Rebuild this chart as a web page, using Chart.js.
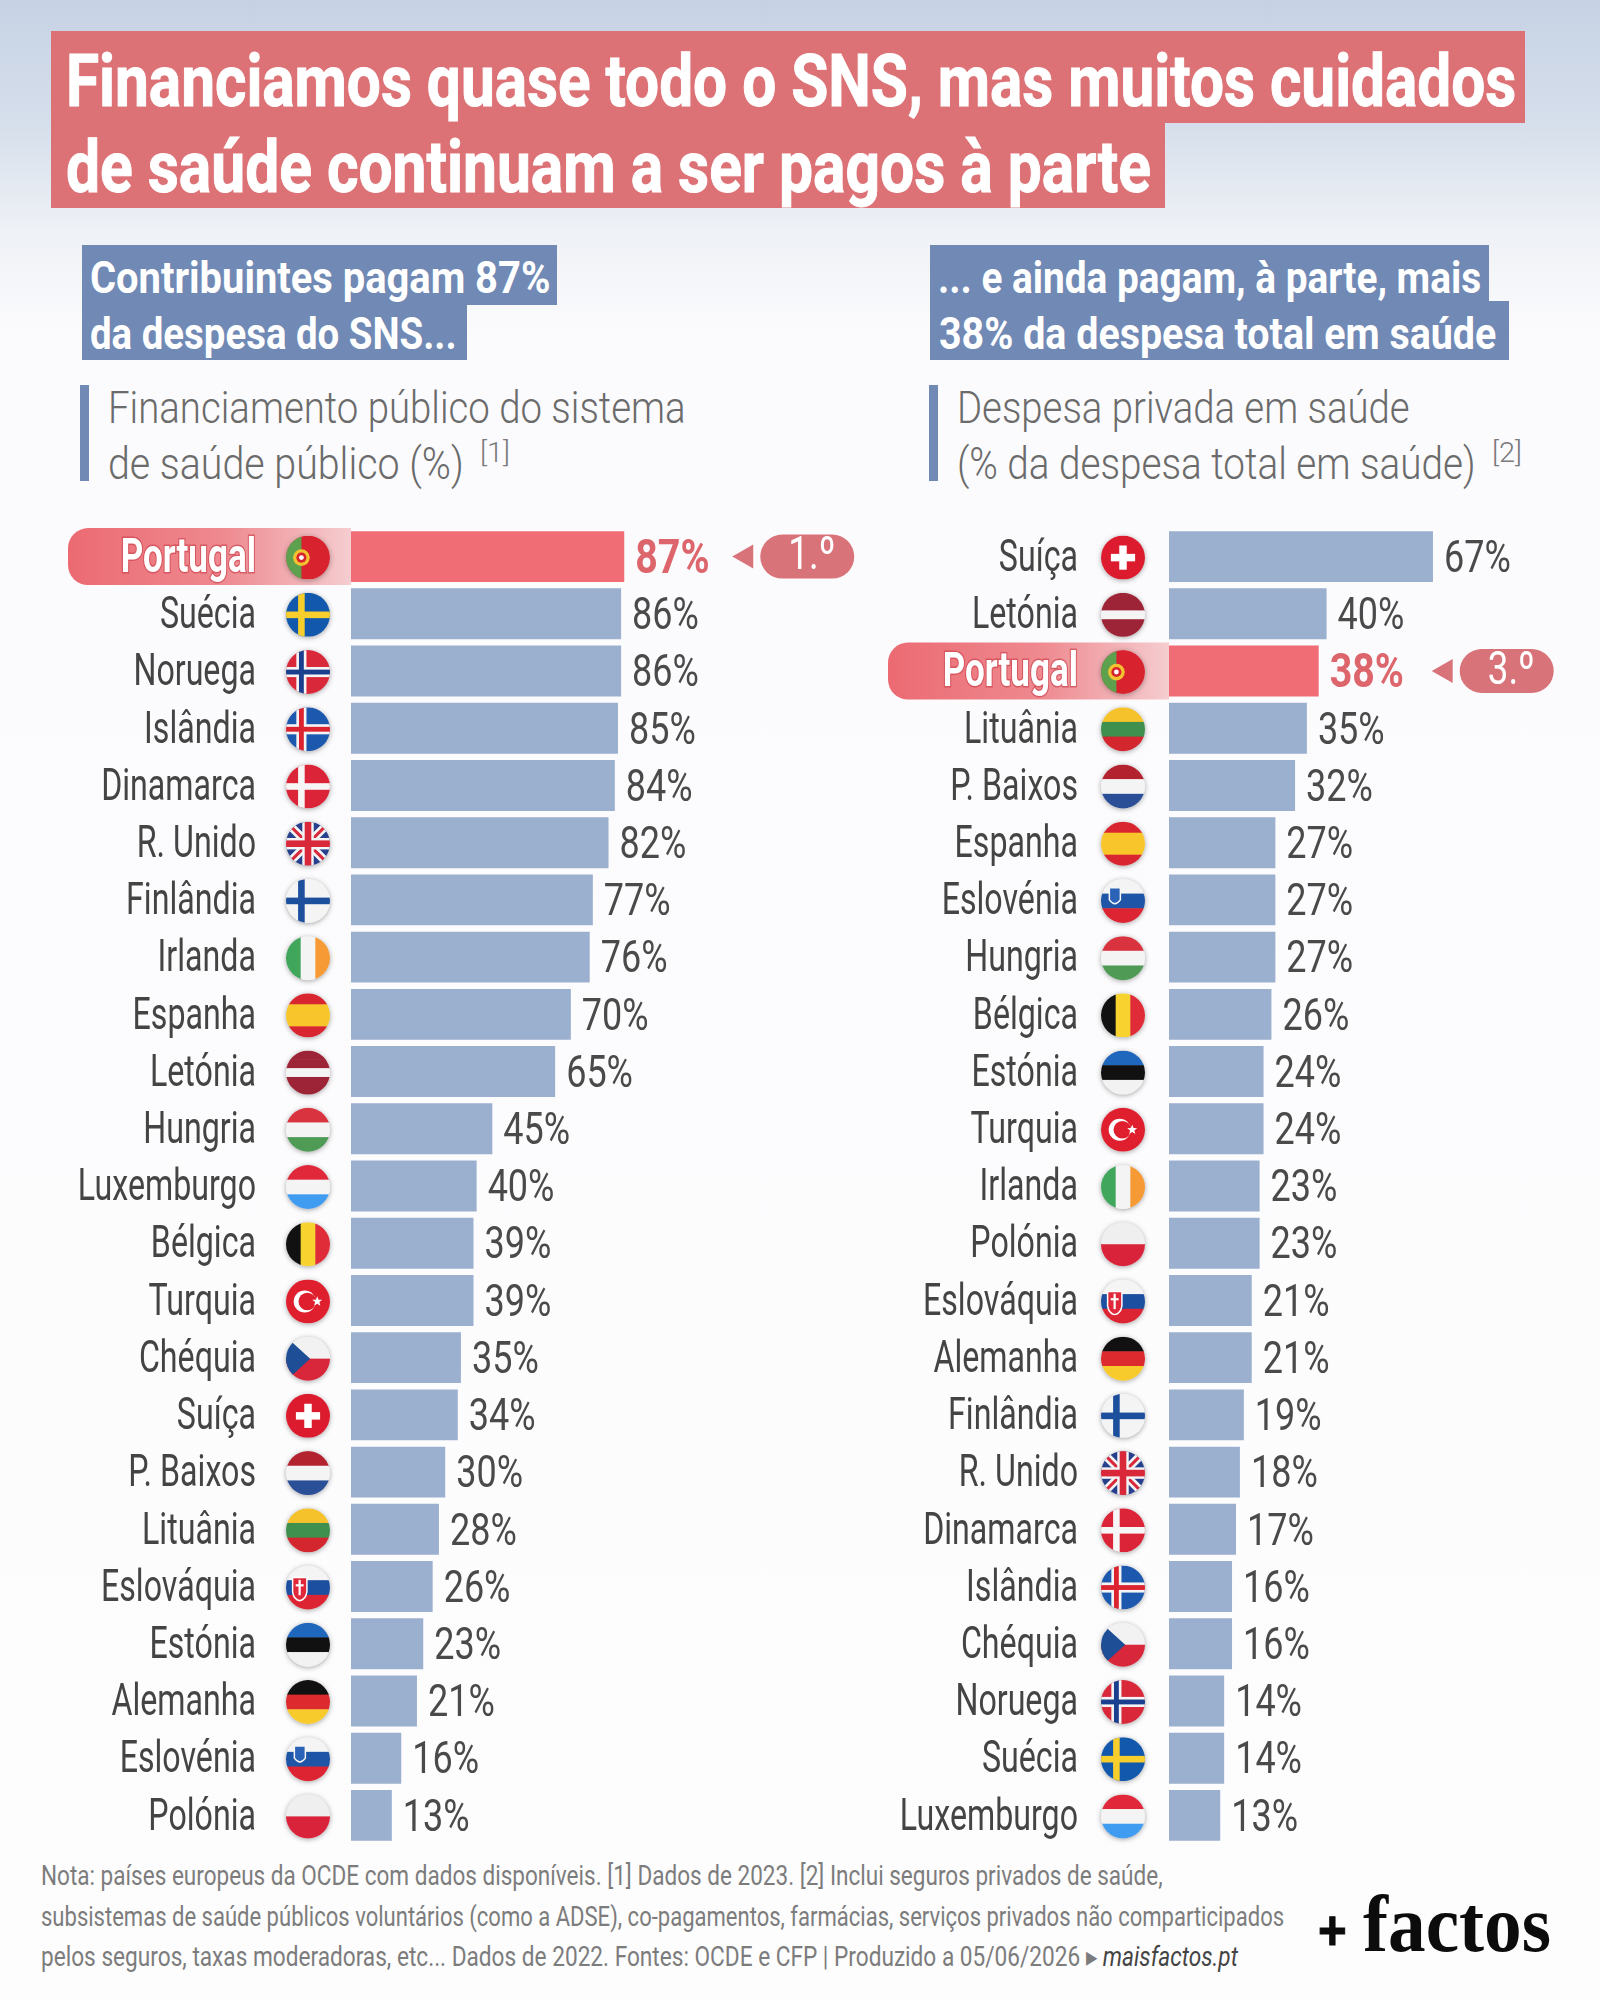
<!DOCTYPE html>
<html lang="pt">
<head>
<meta charset="utf-8">
<title>Financiamos quase todo o SNS</title>
<script src="https://cdn.jsdelivr.net/npm/chart.js@4"></script>
<style>
  html, body { margin: 0; padding: 0; }
  body { width: 1600px; height: 2000px; position: relative; overflow: hidden;
    background: linear-gradient(180deg, #c6d2e4 0px, #d5deeb 120px, #eef1f6 230px, #fbfbfd 330px, #fdfdfe 100%);
    font-family: Roboto, "Liberation Sans", sans-serif; }
  .abs { position: absolute; white-space: nowrap; }
  .red { background: #dc7276; }
  .blue { background: #7089b5; }
  .fit { transform-origin: 0 50%; display: inline-block; }
  .title { color: #fff; font-weight: 700; font-size: 72px; line-height: 72px; -webkit-text-stroke: 1px #fff; }
  .head { color: #fff; font-weight: 700; font-size: 45px; line-height: 45px; }
  .sub { color: #6b6b6b; font-weight: 300; font-size: 45px; line-height: 48px; }
  .sup { color: #7a7a7a; font-weight: 300; font-size: 28px; line-height: 30px; }
  .note { color: #7c7c7c; font-size: 28px; line-height: 30px; }
  .logo { color: #0c0c0c; font-family: "Liberation Serif", serif; font-weight: 700; font-size: 80px; line-height: 80px; }
  .plus { color: #0c0c0c; font-family: "Liberation Sans", sans-serif; font-weight: 700; font-size: 56px; line-height: 56px; -webkit-text-stroke: 1px #0c0c0c; }
  canvas { position: absolute; }
</style>
</head>
<body>
  <div class="abs red" style="left:51px;top:31px;width:1474px;height:92px"></div>
  <div class="abs red" style="left:51px;top:122px;width:1114px;height:86px"></div>
  <div class="abs title" style="left:66px;top:46px"><span class="fit" data-w="1450">Financiamos quase todo o SNS, mas muitos cuidados</span></div>
  <div class="abs title" style="left:66px;top:132px"><span class="fit" data-w="1085">de saúde continuam a ser pagos à parte</span></div>

  <div class="abs blue" style="left:82px;top:245px;width:475px;height:60px"></div>
  <div class="abs blue" style="left:82px;top:304px;width:385px;height:56px"></div>
  <div class="abs head" style="left:90px;top:255px"><span class="fit" data-w="460">Contribuintes pagam 87%</span></div>
  <div class="abs head" style="left:90px;top:311px"><span class="fit" data-w="367">da despesa do SNS...</span></div>

  <div class="abs blue" style="left:930px;top:245px;width:559px;height:60px"></div>
  <div class="abs blue" style="left:930px;top:301px;width:579px;height:59px"></div>
  <div class="abs head" style="left:938px;top:255px"><span class="fit" data-w="543">... e ainda pagam, à parte, mais</span></div>
  <div class="abs head" style="left:939px;top:311px"><span class="fit" data-w="557">38% da despesa total em saúde</span></div>

  <div class="abs" style="left:80px;top:385px;width:9px;height:96px;background:#7089b5"></div>
  <div class="abs sub" style="left:108px;top:384px"><span class="fit" data-w="578">Financiamento público do sistema</span></div>
  <div class="abs sub" style="left:108px;top:440px"><span class="fit" data-w="356">de saúde público (%)</span></div>
  <div class="abs sup" style="left:480px;top:438px"><span class="fit" data-w="30">[1]</span></div>

  <div class="abs" style="left:929px;top:385px;width:9px;height:96px;background:#7089b5"></div>
  <div class="abs sub" style="left:957px;top:384px"><span class="fit" data-w="453">Despesa privada em saúde</span></div>
  <div class="abs sub" style="left:957px;top:440px"><span class="fit" data-w="519">(% da despesa total em saúde)</span></div>
  <div class="abs sup" style="left:1492px;top:438px"><span class="fit" data-w="30">[2]</span></div>

  <canvas id="graficoEsq" style="left:0;top:528px"></canvas>
  <canvas id="graficoDir" style="left:800px;top:528px"></canvas>

  <div class="abs note" style="left:41px;top:1861px"><span class="fit" data-w="1122">Nota: países europeus da OCDE com dados disponíveis. [1] Dados de 2023. [2] Inclui seguros privados de saúde,</span></div>
  <div class="abs note" style="left:41px;top:1902px"><span class="fit" data-w="1243">subsistemas de saúde públicos voluntários (como a ADSE), co-pagamentos, farmácias, serviços privados não comparticipados</span></div>
  <div class="abs note" style="left:41px;top:1942px"><span class="fit" data-w="1197">pelos seguros, taxas moderadoras, etc... Dados de 2022. Fontes: OCDE e CFP | Produzido a 05/06/2026 ▸ <i style="color:#444">maisfactos.pt</i></span></div>
  <div class="abs plus" style="left:1318px;top:1902px"><span class="fit" data-w="29">+</span></div>
  <div class="abs logo" style="left:1363px;top:1884px"><span class="fit" data-w="188">factos</span></div>

<script>
const paisesEsq = ['Portugal','Suécia','Noruega','Islândia','Dinamarca','R. Unido','Finlândia','Irlanda','Espanha','Letónia','Hungria','Luxemburgo','Bélgica','Turquia','Chéquia','Suíça','P. Baixos','Lituânia','Eslováquia','Estónia','Alemanha','Eslovénia','Polónia'];
const valoresEsq = [87,86,86,85,84,82,77,76,70,65,45,40,39,39,35,34,30,28,26,23,21,16,13];
const paisesDir = ['Suíça','Letónia','Portugal','Lituânia','P. Baixos','Espanha','Eslovénia','Hungria','Bélgica','Estónia','Turquia','Irlanda','Polónia','Eslováquia','Alemanha','Finlândia','R. Unido','Dinamarca','Islândia','Chéquia','Noruega','Suécia','Luxemburgo'];
const valoresDir = [67,40,38,35,32,27,27,27,26,24,24,23,23,21,21,19,18,17,16,16,14,14,13];

const AZUL = '#9bafce';
const VERMELHO = '#f06d75';
const FONTE = 'Roboto, "Liberation Sans", sans-serif';
const APERTO = 0.715; // a letra do original e condensada

// bandeiras: cada desenho recebe ctx com o circulo ja recortado, centro em 0,0 e raio r
function riscasH(c, r, cores) {
  const h = 2 * r / cores.length;
  cores.forEach((cor, i) => { c.fillStyle = cor; c.fillRect(-r, -r + i * h, 2 * r, h + 0.5); });
}
function riscasV(c, r, cores) {
  const w = 2 * r / cores.length;
  cores.forEach((cor, i) => { c.fillStyle = cor; c.fillRect(-r + i * w, -r, w + 0.5, 2 * r); });
}
function cruzNordica(c, r, fundo, fora, dentro) {
  c.fillStyle = fundo; c.fillRect(-r, -r, 2 * r, 2 * r);
  const x = -r * 0.3;
  const barra = (cor, e) => {
    c.fillStyle = cor;
    c.fillRect(x - e / 2, -r, e, 2 * r);
    c.fillRect(-r, -e / 2, 2 * r, e);
  };
  barra(fora, dentro ? r * 0.46 : r * 0.3);
  if (dentro) barra(dentro, r * 0.22);
}
function estrela(c, x, y, raio, cor) {
  c.fillStyle = cor;
  c.beginPath();
  for (let i = 0; i < 10; i++) {
    const a = -Math.PI / 2 + i * Math.PI / 5;
    const q = i % 2 ? raio * 0.42 : raio;
    c.lineTo(x + q * Math.cos(a), y + q * Math.sin(a));
  }
  c.fill();
}
const bandeiras = {
  'Portugal': (c, r) => {
    c.fillStyle = '#d8232f'; c.fillRect(-r, -r, 2 * r, 2 * r);
    c.fillStyle = '#5da14e'; c.fillRect(-r, -r, r * 0.7, 2 * r);
    c.fillStyle = '#f2c230'; c.beginPath(); c.arc(-r * 0.3, 0, r * 0.38, 0, 7); c.fill();
    c.fillStyle = '#d8232f'; c.beginPath(); c.arc(-r * 0.3, 0, r * 0.23, 0, 7); c.fill();
    c.fillStyle = '#fff'; c.beginPath(); c.arc(-r * 0.3, 0, r * 0.11, 0, 7); c.fill();
  },
  'Suécia': (c, r) => cruzNordica(c, r, '#1259ad', '#f7ce2c'),
  'Noruega': (c, r) => cruzNordica(c, r, '#d8283a', '#f4f4f4', '#1b3f8f'),
  'Islândia': (c, r) => cruzNordica(c, r, '#1c58ad', '#f4f4f4', '#dc2430'),
  'Dinamarca': (c, r) => cruzNordica(c, r, '#dc2438', '#f6f6f6'),
  'Finlândia': (c, r) => cruzNordica(c, r, '#f4f4f4', '#1c4f9c'),
  'R. Unido': (c, r) => {
    c.fillStyle = '#26408e'; c.fillRect(-r, -r, 2 * r, 2 * r);
    c.lineCap = 'butt';
    c.strokeStyle = '#f4f4f4'; c.lineWidth = r * 0.38;
    c.beginPath(); c.moveTo(-r, -r); c.lineTo(r, r); c.moveTo(r, -r); c.lineTo(-r, r); c.stroke();
    c.strokeStyle = '#d8283a'; c.lineWidth = r * 0.14;
    c.beginPath(); c.moveTo(-r, -r); c.lineTo(r, r); c.moveTo(r, -r); c.lineTo(-r, r); c.stroke();
    c.fillStyle = '#f4f4f4'; c.fillRect(-r * 0.26, -r, r * 0.52, 2 * r); c.fillRect(-r, -r * 0.26, 2 * r, r * 0.52);
    c.fillStyle = '#d8283a'; c.fillRect(-r * 0.15, -r, r * 0.3, 2 * r); c.fillRect(-r, -r * 0.15, 2 * r, r * 0.3);
  },
  'Irlanda': (c, r) => riscasV(c, r, ['#3fa65c', '#f4f4f4', '#f59a35']),
  'Espanha': (c, r) => riscasH(c, r, ['#d9252f', '#f8c52a', '#f8c52a', '#d9252f']),
  'Letónia': (c, r) => riscasH(c, r, ['#9c2436', '#9c2436', '#f4f4f4', '#9c2436', '#9c2436']),
  'Hungria': (c, r) => riscasH(c, r, ['#d9333f', '#f4f4f4', '#4f9a55']),
  'Luxemburgo': (c, r) => riscasH(c, r, ['#e0283a', '#f4f4f4', '#3f9cf0']),
  'Bélgica': (c, r) => riscasV(c, r, ['#111', '#f8d22e', '#e02b38']),
  'Turquia': (c, r) => {
    c.fillStyle = '#e01f2e'; c.fillRect(-r, -r, 2 * r, 2 * r);
    c.fillStyle = '#fff'; c.beginPath(); c.arc(-r * 0.15, 0, r * 0.5, 0, 7); c.fill();
    c.fillStyle = '#e01f2e'; c.beginPath(); c.arc(-r * 0.03, 0, r * 0.4, 0, 7); c.fill();
    estrela(c, r * 0.42, 0, r * 0.24, '#fff');
  },
  'Chéquia': (c, r) => {
    riscasH(c, r, ['#f2f2f2', '#d8263a']);
    c.fillStyle = '#1e4f96'; c.beginPath(); c.moveTo(-r, -r); c.lineTo(r * 0.1, 0); c.lineTo(-r, r); c.fill();
  },
  'Suíça': (c, r) => {
    c.fillStyle = '#dc1c2e'; c.fillRect(-r, -r, 2 * r, 2 * r);
    c.fillStyle = '#fff';
    c.fillRect(-r * 0.17, -r * 0.55, r * 0.34, r * 1.1);
    c.fillRect(-r * 0.55, -r * 0.17, r * 1.1, r * 0.34);
  },
  'P. Baixos': (c, r) => riscasH(c, r, ['#b3222f', '#f4f4f4', '#2a4f96']),
  'Lituânia': (c, r) => riscasH(c, r, ['#f5c22b', '#3f8f4f', '#d3262f']),
  'Eslováquia': (c, r) => {
    riscasH(c, r, ['#f4f4f4', '#1d4fa0', '#dc2433']);
    c.fillStyle = '#e0283a'; c.strokeStyle = '#fff'; c.lineWidth = 1.5;
    c.beginPath(); c.moveTo(-r * 0.7, -r * 0.45); c.lineTo(-r * 0.05, -r * 0.45);
    c.lineTo(-r * 0.05, r * 0.2); c.quadraticCurveTo(-r * 0.1, r * 0.55, -r * 0.38, r * 0.6);
    c.quadraticCurveTo(-r * 0.65, r * 0.55, -r * 0.7, r * 0.2); c.closePath(); c.fill(); c.stroke();
    c.fillStyle = '#fff'; c.fillRect(-r * 0.43, -r * 0.35, r * 0.1, r * 0.7); c.fillRect(-r * 0.56, -r * 0.15, r * 0.36, r * 0.1);
  },
  'Estónia': (c, r) => riscasH(c, r, ['#1f66bd', '#111', '#f2f2f2']),
  'Alemanha': (c, r) => riscasH(c, r, ['#111', '#dc2a2f', '#f8cb2c']),
  'Eslovénia': (c, r) => {
    riscasH(c, r, ['#f4f4f4', '#1f55a6', '#dc2433']);
    c.fillStyle = '#2a62b8'; c.strokeStyle = '#f4f4f4'; c.lineWidth = 1.5;
    c.beginPath(); c.moveTo(-r * 0.62, -r * 0.6); c.lineTo(-r * 0.12, -r * 0.6); c.lineTo(-r * 0.12, -r * 0.05);
    c.quadraticCurveTo(-r * 0.37, r * 0.3, -r * 0.62, -r * 0.05); c.closePath(); c.fill(); c.stroke();
  },
  'Polónia': (c, r) => riscasH(c, r, ['#efefef', '#d9233a'])
};

function desenhaBandeira(ctx, pais, x, y, r) {
  ctx.save();
  ctx.translate(x, y);
  ctx.shadowColor = 'rgba(60,60,60,0.45)';
  ctx.shadowBlur = 5;
  ctx.shadowOffsetY = 1;
  ctx.fillStyle = '#eee';
  ctx.beginPath(); ctx.arc(0, 0, r, 0, 7); ctx.fill();
  ctx.shadowColor = 'transparent';
  ctx.beginPath(); ctx.arc(0, 0, r, 0, 7); ctx.clip();
  bandeiras[pais](ctx, r);
  ctx.restore();
}

// texto condensado: a escala e so na horizontal, a partir de x
function textoApertado(ctx, texto, x, y, k) {
  ctx.save();
  ctx.translate(x, y);
  ctx.scale(k, 1);
  ctx.fillText(texto, 0, 0);
  ctx.restore();
}

const decoracao = {
  id: 'decoracao',
  // os rotulos do eixo sao do Chart.js, so se aperta o contexto enquanto os desenha
  afterLayout(chart) {
    const eixo = chart.scales.y;
    if (eixo.apertado) return;
    eixo.apertado = true;
    const original = eixo.drawLabels;
    eixo.drawLabels = function (area) {
      const px = eixo.right - eixo.options.ticks.padding;
      const ctx = eixo.ctx;
      ctx.save();
      ctx.translate(px, 3);
      ctx.scale(APERTO, 1);
      ctx.translate(-px, 0);
      original.call(eixo, area);
      ctx.restore();
    };
  },
  // realce de Portugal, atras dos rotulos e das barras
  beforeDraw(chart, args, opts) {
    const ctx = chart.ctx;
    const i = chart.data.labels.indexOf('Portugal');
    const y = chart.scales.y.getPixelForValue(i);
    const x1 = chart.scales.x.left, x0 = x1 - opts.larguraRealce;
    const g = ctx.createLinearGradient(x0, 0, x1, 0);
    g.addColorStop(0, '#ec6a72');
    g.addColorStop(0.55, '#ee8a90');
    g.addColorStop(1, '#f5cdd0');
    ctx.save();
    ctx.fillStyle = g;
    ctx.beginPath();
    ctx.roundRect(x0, y - 28.5, opts.larguraRealce, 57, [20, 0, 0, 20]);
    ctx.fill();
    ctx.restore();
  },
  afterDraw(chart, args, opts) {
    const ctx = chart.ctx, meta = chart.getDatasetMeta(0);
    chart.data.labels.forEach((pais, i) => {
      const el = meta.data[i];
      desenhaBandeira(ctx, pais, chart.scales.x.left - opts.distBandeira, el.y + 1, 22);
      const pt = pais === 'Portugal';
      ctx.save();
      ctx.font = (pt ? 'bold 48px ' : '45px ') + FONTE;
      ctx.fillStyle = pt ? '#dd666d' : '#4a4a4a';
      ctx.textAlign = 'left';
      ctx.textBaseline = 'middle';
      textoApertado(ctx, chart.data.datasets[0].data[i] + '%', el.x + 11, el.y + 4, pt ? 0.82 : 0.8);
      if (pt) {
        const x = el.x + opts.distSeta;
        ctx.fillStyle = '#d9737a';
        ctx.beginPath(); ctx.moveTo(x, el.y); ctx.lineTo(x + 21, el.y - 12); ctx.lineTo(x + 21, el.y + 12); ctx.fill();
        ctx.beginPath(); ctx.roundRect(x + 28, el.y - 22, 94, 44, 22); ctx.fill();
        ctx.fillStyle = '#fff';
        ctx.font = '400 46px ' + FONTE;
        textoApertado(ctx, opts.posicao, x + 56, el.y + 1, 0.8);
      }
      ctx.restore();
    });
  }
};

function criaGrafico(id, paises, valores, eixoX, maximo, folga, largura, distBandeira, posicao, distSeta) {
  return new Chart(document.getElementById(id), {
    type: 'bar',
    plugins: [decoracao],
    data: {
      labels: paises,
      datasets: [{
        data: valores,
        backgroundColor: paises.map(p => p === 'Portugal' ? VERMELHO : AZUL),
        categoryPercentage: 0.89,
        barPercentage: 1
      }]
    },
    options: {
      indexAxis: 'y',
      responsive: false,
      maintainAspectRatio: false,
      animation: false,
      devicePixelRatio: 1,
      layout: { padding: 0 },
      plugins: {
        legend: { display: false },
        tooltip: { enabled: false },
        decoracao: { larguraRealce: largura, distBandeira, distSeta, posicao }
      },
      scales: {
        x: { display: false, min: 0, max: maximo },
        y: {
          // ticks.padding tambem entra na altura do eixo, aqui so interessa na largura
          afterFit: s => { s.width = eixoX; s.paddingTop = 0; s.paddingBottom = 0; },
          grid: { display: false, drawTicks: false, tickLength: 0 },
          border: { display: false },
          ticks: {
            autoSkip: false,
            padding: folga,
            color: c => paises[c.index] === 'Portugal' ? '#fff' : '#444',
            textStrokeColor: c => paises[c.index] === 'Portugal' ? 'rgba(205,70,80,0.7)' : 'rgba(0,0,0,0)',
            textStrokeWidth: c => paises[c.index] === 'Portugal' ? 3 : 0,
            font: c => ({ family: FONTE, size: paises[c.index] === 'Portugal' ? 49 : 45, weight: paises[c.index] === 'Portugal' ? 'bold' : 'normal' })
          }
        }
      }
    }
  });
}

for (const [id, w, h] of [['graficoEsq', 900, 1316], ['graficoDir', 800, 1316]]) {
  const cv = document.getElementById(id);
  cv.width = w; cv.height = h;
  cv.style.width = w + 'px';
  cv.style.height = h + 'px';
}

function iniciar() {
  document.querySelectorAll('.fit').forEach(el => {
    el.style.transform = 'scaleX(' + (el.dataset.w / el.offsetWidth) + ')';
  });
  criaGrafico('graficoEsq', paisesEsq, valoresEsq, 351, 174.8, 95, 283, 43, '1.º', 108);
  criaGrafico('graficoDir', paisesDir, valoresDir, 369, 109.4, 91, 281, 46, '3.º', 113);
}
if (document.fonts && document.fonts.ready) document.fonts.ready.then(iniciar); else iniciar();
</script>
</body>
</html>
